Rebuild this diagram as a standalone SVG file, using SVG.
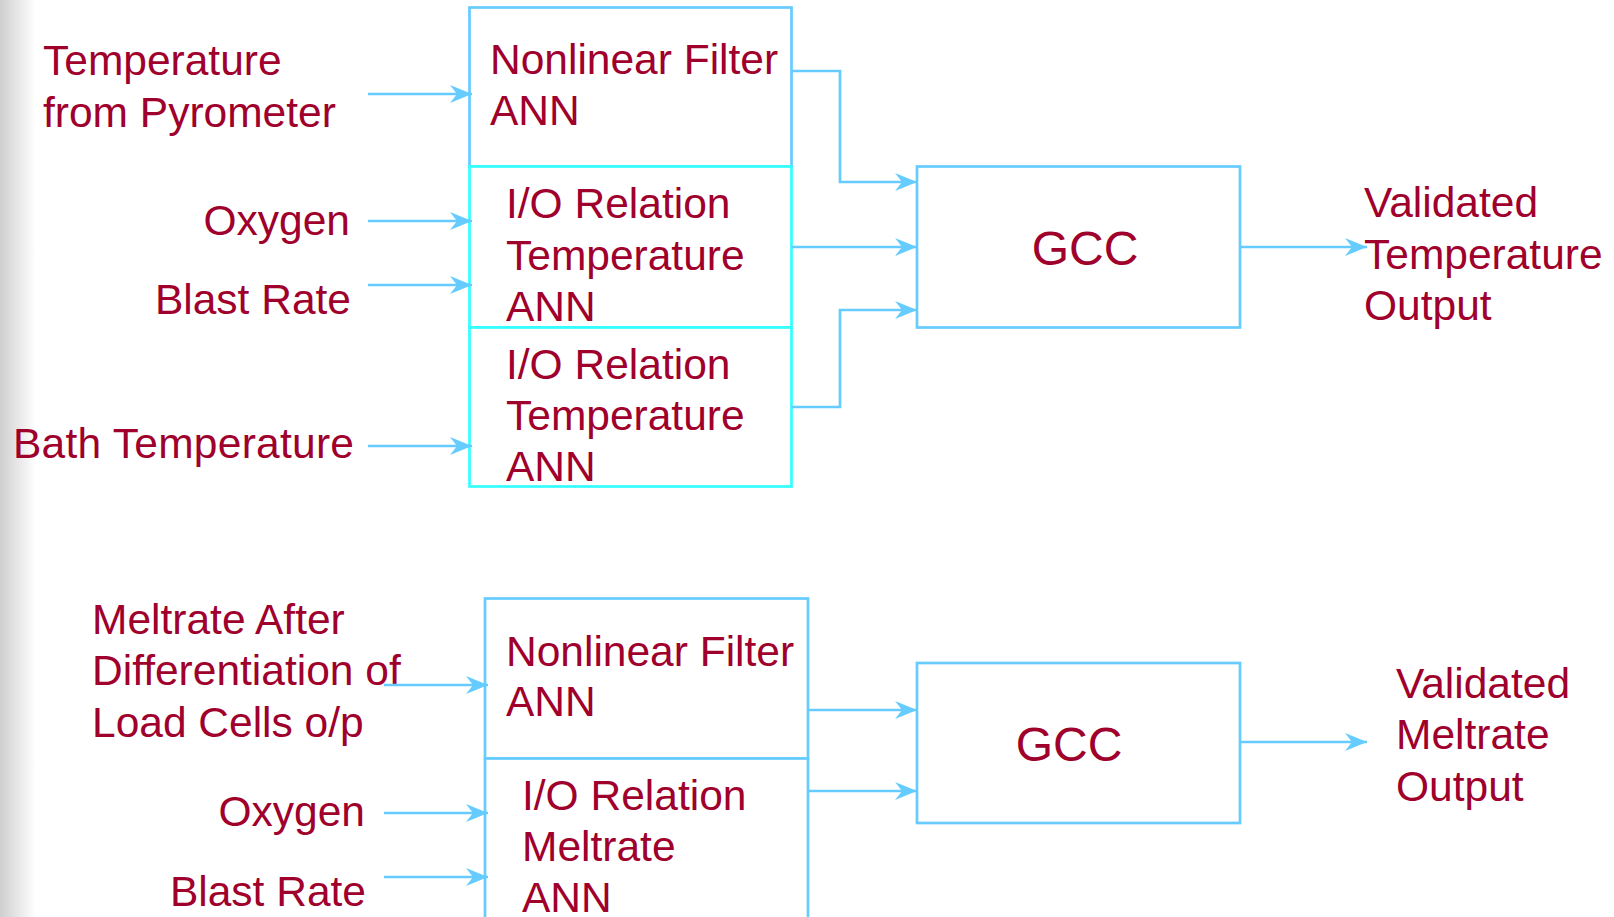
<svg xmlns="http://www.w3.org/2000/svg" width="1614" height="917" viewBox="0 0 1614 917">
  <defs>
    <linearGradient id="shade" x1="0" y1="0" x2="1" y2="0">
      <stop offset="0" stop-color="#cfcfcf"/>
      <stop offset="1" stop-color="#ffffff"/>
    </linearGradient>
    <marker id="arr" markerUnits="userSpaceOnUse" markerWidth="24" markerHeight="20" refX="22" refY="9" orient="auto">
      <path d="M0,0 L22,9 L0,18 L7,9 Z" fill="#66ccff"/>
    </marker>
  </defs>
  <style>
    .t { font-family: "Liberation Sans", Arial, sans-serif; font-size: 42.5px; fill: #a0002c; }
    .g { font-family: "Liberation Sans", Arial, sans-serif; font-size: 48px; fill: #a0002c; text-anchor: middle; }
    .r { text-anchor: end; }
    .b1 { fill: #ffffff; stroke: #66ccff; stroke-width: 2.7; }
    .b2 { fill: #ffffff; stroke: #33ffff; stroke-width: 2.7; }
    .c { fill: none; stroke: #66ccff; stroke-width: 2.7; marker-end: url(#arr); }
  </style>
  <rect x="0" y="0" width="1614" height="917" fill="#ffffff"/>
  <rect x="0" y="0" width="36" height="917" fill="url(#shade)"/>

  <!-- Input labels top -->
  <g id="in-temp">
    <text class="t" x="43" y="75">Temperature</text>
    <text class="t" x="43" y="127">from Pyrometer</text>
  </g>
  <g id="in-oxygen1"><text class="t r" x="350" y="235">Oxygen</text></g>
  <g id="in-blast1"><text class="t r" x="351" y="314">Blast Rate</text></g>
  <g id="in-bath"><text class="t r" x="354" y="458" textLength="341">Bath Temperature</text></g>

  <!-- Top ANN boxes -->
  <g id="nf1">
    <rect class="b1" x="469.5" y="7.5" width="322" height="159"/>
    <text class="t" x="490" y="74">Nonlinear Filter</text>
    <text class="t" x="490" y="125">ANN</text>
  </g>
  <g id="io1">
    <rect class="b2" x="469.5" y="166.5" width="322" height="161"/>
    <text class="t" x="506" y="218">I/O Relation</text>
    <text class="t" x="506" y="270">Temperature</text>
    <text class="t" x="506" y="321">ANN</text>
  </g>
  <g id="io2">
    <rect class="b2" x="469.5" y="327.5" width="322" height="159"/>
    <text class="t" x="506" y="379">I/O Relation</text>
    <text class="t" x="506" y="430">Temperature</text>
    <text class="t" x="506" y="481">ANN</text>
  </g>

  <g id="gcc1">
    <rect class="b1" x="917" y="166.5" width="323" height="161"/>
    <text class="g" x="1085" y="265">GCC</text>
  </g>
  <g id="out1">
    <text class="t" x="1364" y="217">Validated</text>
    <text class="t" x="1364" y="269">Temperature</text>
    <text class="t" x="1364" y="320">Output</text>
  </g>

  <!-- Bottom -->
  <g id="in-melt">
    <text class="t" x="92" y="634">Meltrate After</text>
    <text class="t" x="92" y="685">Differentiation of</text>
    <text class="t" x="92" y="737">Load Cells o/p</text>
  </g>
  <g id="in-oxygen2"><text class="t r" x="365" y="826">Oxygen</text></g>
  <g id="in-blast2"><text class="t r" x="366" y="906">Blast Rate</text></g>

  <g id="nf2">
    <rect class="b1" x="485" y="598.5" width="323" height="160"/>
    <text class="t" x="506" y="666">Nonlinear Filter</text>
    <text class="t" x="506" y="716">ANN</text>
  </g>
  <g id="io3">
    <rect class="b1" x="485" y="758.5" width="323" height="180"/>
    <text class="t" x="522" y="810">I/O Relation</text>
    <text class="t" x="522" y="861">Meltrate</text>
    <text class="t" x="522" y="912">ANN</text>
  </g>

  <g id="gcc2">
    <rect class="b1" x="917" y="663" width="323" height="160"/>
    <text class="g" x="1069" y="761">GCC</text>
  </g>
  <g id="out2">
    <text class="t" x="1396" y="698">Validated</text>
    <text class="t" x="1396" y="749">Meltrate</text>
    <text class="t" x="1396" y="801">Output</text>
  </g>

  <!-- Connectors -->
  <g id="connectors">
    <path class="c" d="M368,94 H472"/>
    <path class="c" d="M368,221 H472"/>
    <path class="c" d="M368,285 H472"/>
    <path class="c" d="M368,446 H472"/>
    <path class="c" d="M791.5,71 H840 V182 H917"/>
    <path class="c" d="M791.5,247 H917"/>
    <path class="c" d="M791.5,407 H840 V310 H917"/>
    <path class="c" d="M1240,247 H1367"/>

    <path class="c" d="M384,685 H488"/>
    <path class="c" d="M384,813 H488"/>
    <path class="c" d="M384,877 H488"/>
    <path class="c" d="M808,710 H917"/>
    <path class="c" d="M808,791 H917"/>
    <path class="c" d="M1240,742 H1367"/>
  </g>
</svg>
